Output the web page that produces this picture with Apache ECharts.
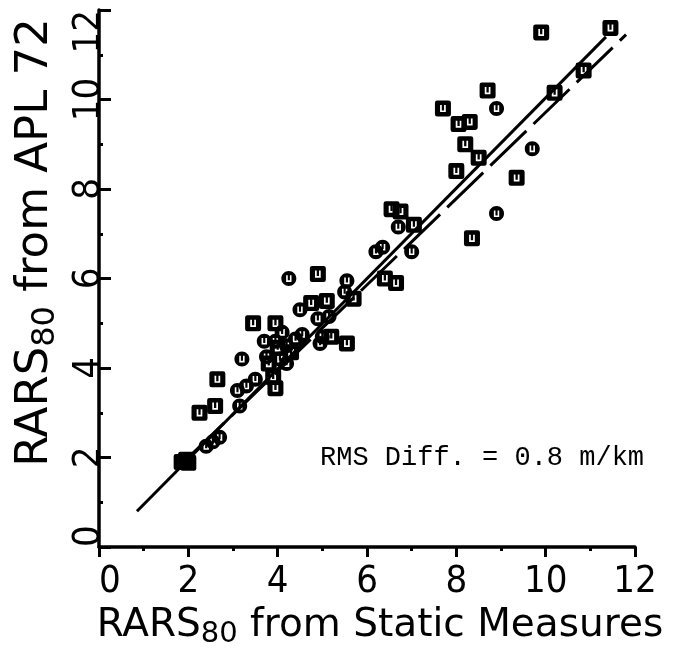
<!DOCTYPE html>
<html>
<head>
<meta charset="utf-8">
<script src="https://cdn.jsdelivr.net/npm/echarts@6/dist/echarts.min.js"></script>
<style>html,body{margin:0;padding:0;background:#fff}#c{width:682px;height:650px}</style>
</head>
<body>
<div id="c"></div>
<script>
// ---- data ----
const squarePoints = [
  [9.9,11.5],[11.45,11.6],[10.85,10.65],[10.2,10.15],[8.7,10.2],[7.7,9.8],[8.05,9.45],[8.3,9.5],
  [8.2,9.0],[8.5,8.7],[8.0,8.4],[9.35,8.25],[8.35,6.9],[6.55,7.55],[6.75,7.5],[7.05,7.2],
  [6.4,6.0],[6.65,5.9],[4.9,6.1],[5.7,5.55],[4.75,5.45],[5.1,5.5],[3.45,5.0],[3.95,5.0],
  [5.2,4.7],[5.55,4.55],[2.65,3.75],[3.95,3.55],[3.8,4.1],[3.9,3.8],[2.6,3.15],[2.25,3.0],
  [4.0,4.45],[4.3,4.35],[1.85,1.9],[1.95,1.95],[2.0,1.88]
];
const circlePoints = [
  [8.9,9.8],[9.7,8.9],[8.9,7.45],[6.7,7.15],[7.0,6.6],[6.2,6.6],[6.35,6.7],[4.25,6.0],
  [5.55,5.95],[5.5,5.7],[4.5,5.3],[4.1,4.8],[5.0,4.7],[4.95,4.55],[4.9,5.1],[5.15,5.15],
  [3.7,4.6],[3.95,4.6],[4.2,4.5],[4.4,4.65],[4.55,4.75],[3.75,4.25],[4.05,4.2],[4.2,4.1],
  [3.2,4.2],[3.1,3.5],[3.3,3.6],[3.5,3.75],[3.15,3.15],[2.4,2.25],[2.55,2.35],[2.7,2.45]
];
const solidLine = [[0.85,0.8],[11.35,11.4]];
const dashedLine = [[2.0,2.0],[11.8,11.45]];
const tickValues = [0,2,4,6,8,10,12];
const xTitleParts = ['RARS','80',' from Static Measures'];
const yTitleParts = ['RARS','80',' from APL 72'];
const noteText = 'RMS Diff. = 0.8 m/km';

// ---- marker shapes: filled marker with a white "U" cut out ----
const uHole = 'M4.5 4L4.5 10.2L9.5 10.2L9.5 4L8 4L8 8.7L6 8.7L6 4Z';
const squareSym = 'path://M2 0L12 0Q14 0 14 2L14 12Q14 14 12 14L2 14Q0 14 0 12L0 2Q0 0 2 0Z' + uHole;
const circleSym = 'path://M7 0C10.87 0 14 3.13 14 7C14 10.87 10.87 14 7 14C3.13 14 0 10.87 0 7C0 3.13 3.13 0 7 0Z' + uHole;

const FONT = 'DejaVu Sans';
const TICKFONT = '"Liberation Sans Narrow", "DejaVu Sans Condensed", "DejaVu Sans"';
function richName(p) { return '{a|' + p[0] + '}{s|' + p[1] + '}{a|' + p[2] + '}'; }
function titleRich(big, small, lh) {
  return {
    a: {fontSize: big, fontFamily: FONT, color: '#000', lineHeight: lh},
    s: {fontSize: small, fontFamily: FONT, color: '#000', verticalAlign: 'bottom'}
  };
}

const axisCommon = {
  type: 'value',
  min: tickValues[0],
  max: tickValues[tickValues.length - 1],
  interval: tickValues[1] - tickValues[0],
  axisLine: {show: true, onZero: false, lineStyle: {color: '#000', width: 3.5}},
  splitLine: {show: false},
  minorTick: {show: true, splitNumber: 2, length: 4, lineStyle: {color: '#000', width: 3}},
  minorSplitLine: {show: false}
};

const chart = echarts.init(document.getElementById('c'), null, {renderer: 'canvas'});
chart.setOption({
  animation: false,
  backgroundColor: '#fff',
  grid: {left: 99, right: 47, top: 10, bottom: 103, containLabel: false, outerBoundsMode: 'none'},
  xAxis: Object.assign({}, axisCommon, {
    axisTick: {show: true, length: 10, lineStyle: {color: '#000', width: 3}},
    axisLabel: {fontSize: 38, fontFamily: TICKFONT, color: '#000', margin: 16, alignMinLabel: 'left'},
    name: richName(xTitleParts),
    nameLocation: 'middle',
    nameGap: 50,
    nameTextStyle: {rich: titleRich(39, 29, 48), padding: [0, 0, 0, 26]}
  }),
  yAxis: Object.assign({}, axisCommon, {
    axisTick: {show: true, inside: true, length: 12, lineStyle: {color: '#000', width: 3}},
    axisLabel: {fontSize: 38, fontFamily: TICKFONT, color: '#000', margin: -9, rotate: 90,
                alignMinLabel: 'left', alignMaxLabel: 'right'},
    name: richName(yTitleParts),
    nameLocation: 'middle',
    nameGap: 36,
    nameTextStyle: {rich: titleRich(45, 32, 54), padding: [0, 0, 0, 72]}
  }),
  graphic: [{
    type: 'text',
    left: 320,
    top: 444,
    style: {text: noteText, fontFamily: 'Liberation Mono', fontSize: 27, fill: '#000'}
  }],
  series: [
    {type: 'line', data: solidLine, symbol: 'none', z: 1,
     lineStyle: {color: '#000', width: 3}},
    {type: 'line', data: dashedLine, symbol: 'none', z: 1,
     lineStyle: {color: '#000', width: 3, type: [50, 10]}},
    {type: 'scatter', data: squarePoints, symbol: squareSym, symbolSize: 16, z: 3,
     itemStyle: {color: '#000', opacity: 1}},
    {type: 'scatter', data: circlePoints, symbol: circleSym, symbolSize: 15, z: 3,
     itemStyle: {color: '#000', opacity: 1}}
  ]
});
</script>
</body>
</html>
